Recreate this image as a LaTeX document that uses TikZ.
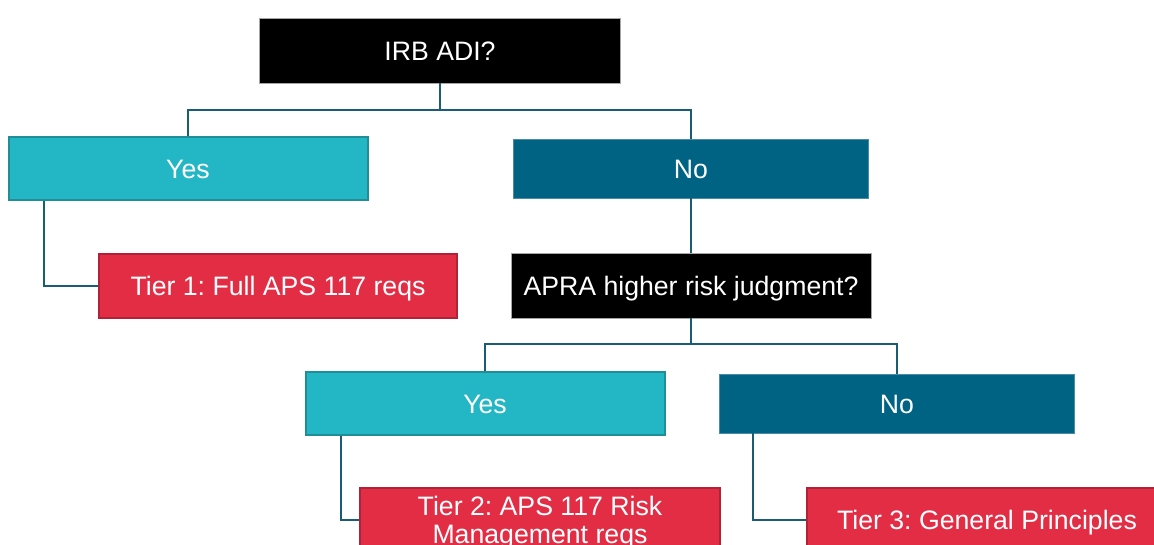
\documentclass[tikz,border=0pt]{standalone}
\usepackage{fontspec}
\setmainfont{Liberation Sans}
\frenchspacing

\definecolor{qblack}{HTML}{000000}
\definecolor{yesfill}{HTML}{23B7C5}
\definecolor{yesline}{HTML}{1F8E98}
\definecolor{nofill}{HTML}{016384}
\definecolor{noline}{HTML}{4A8CA6}
\definecolor{tierfill}{HTML}{E22D45}
\definecolor{tierline}{HTML}{B02238}
\definecolor{linkcol}{HTML}{1A5C74}

\tikzset{every picture/.style={line width=0.75pt}}
\tikzset{
  box/.style={rectangle, inner sep=0.75pt, text=white, align=center,
    text height=14.4pt, text depth=0pt,
    font=\fontsize{20}{20.5}\selectfont},
  question/.style={box, fill=qblack, draw=gray!70, line width=0.5pt},
  yesbox/.style={box, fill=yesfill, draw=yesline, line width=1.5pt},
  nobox/.style={box, fill=nofill, draw=noline, line width=0.5pt},
  tierbox/.style={box, fill=tierfill, draw=tierline, line width=1.5pt},
  link/.style={draw=linkcol, line width=1.5pt}
}

\begin{document}
\begin{tikzpicture}[x=0.75pt,y=0.75pt,yscale=-1,xscale=1]
	\useasboundingbox (0,0) rectangle (1154,545);
	\clip (0,0) rectangle (1154,545);
	
	%Shape: Rectangle [id:irb]
	\node [question, minimum width=270.75pt, minimum height=48.75pt] (irb) at (440,50.5) {IRB ADI?};
	%Shape: Rectangle [id:yes1]
	\node [yesbox, minimum width=269.25pt, minimum height=47.25pt] (yes1) at (188,168.5) {Yes};
	%Shape: Rectangle [id:no1]
	\node [nobox, minimum width=266.25pt, minimum height=44.25pt] (no1) at (691,168.5) {No};
	%Shape: Rectangle [id:tier1]
	\node [tierbox, minimum width=268.5pt, minimum height=48pt] (tier1) at (278,286) {Tier 1: Full APS 117 reqs};
	%Shape: Rectangle [id:apra]
	\node [question, minimum width=270pt, minimum height=48.75pt] (apra) at (691,285.5) {APRA higher risk judgment?};
	%Shape: Rectangle [id:yes2]
	\node [yesbox, minimum width=269.25pt, minimum height=47.25pt] (yes2) at (485,403.5) {Yes};
	%Shape: Rectangle [id:no2]
	\node [nobox, minimum width=266.25pt, minimum height=44.25pt] (no2) at (897,403.5) {No};
	%Shape: Rectangle [id:tier2]
	\node [tierbox, text height=34.9pt, minimum width=270pt, minimum height=48pt] (tier2) at (540,520) {Tier 2: APS 117 Risk\\Management reqs};
	%Shape: Rectangle [id:tier3]
	\node [tierbox, minimum width=270pt, minimum height=48pt] (tier3) at (987,520) {Tier 3: General Principles};
	
	%Straight Lines [id:split1]
	\coordinate (split1) at (440,110);
	\draw [link] (irb.south) -- (split1);
	\draw [link] (yes1.north) |- (split1) -| (no1.north);
	%Straight Lines [id:yes1tier1]
	\draw [link] ([xshift=27pt]yes1.south west) |- (tier1.west);
	%Straight Lines [id:no1apra]
	\draw [link] (no1.south) -- (apra.north);
	%Straight Lines [id:split2]
	\coordinate (split2) at (691,344);
	\draw [link] (apra.south) -- (split2);
	\draw [link] (yes2.north) |- (split2) -| (no2.north);
	%Straight Lines [id:yes2tier2]
	\draw [link] ([xshift=27pt]yes2.south west) |- (tier2.west);
	%Straight Lines [id:no2tier3]
	\draw [link] ([xshift=25.5pt]no2.south west) |- (tier3.west);
	
\end{tikzpicture}
\end{document}
